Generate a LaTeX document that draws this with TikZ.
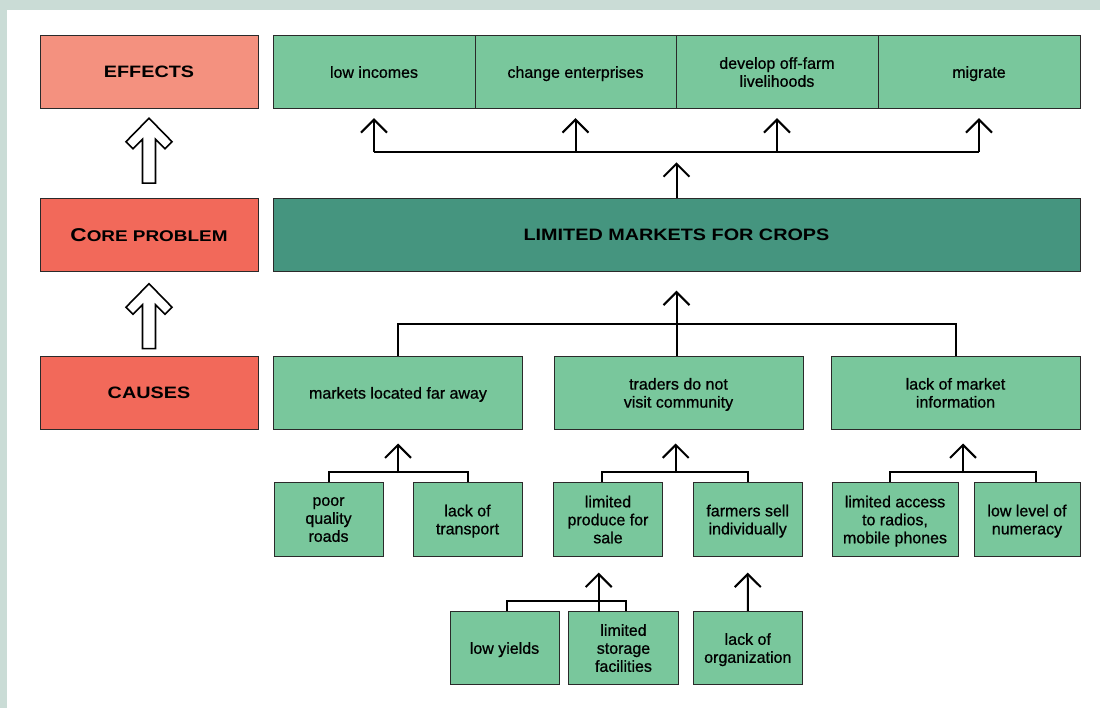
\documentclass[tikz,border=0pt]{standalone}
\usepackage{fontspec}
\setmainfont{Liberation Sans}
\newfontfamily\medfont[FakeBold=0.8]{Liberation Sans}
\usetikzlibrary{arrows.meta,calc}
\definecolor{framecol}{HTML}{CADCD6}
\definecolor{salmon}{HTML}{F4917F}
\definecolor{redbox}{HTML}{F2695A}
\definecolor{grn}{HTML}{79C79C}
\definecolor{tealbox}{HTML}{45957F}
\definecolor{bord}{HTML}{2A2A2A}
\newcommand\hd[1]{\scalebox{1.2}[1]{\bfseries\fontsize{16.5}{18}\selectfont #1}}
\begin{document}
\begin{tikzpicture}[x=1pt,y=-1pt,
  box/.style={draw=bord, line width=0.9pt, fill=grn, inner sep=0pt, align=center,
    font=\medfont\fontsize{16}{18}\selectfont, minimum height=72.5pt, text depth=0pt},
  sbox/.style={box, minimum height=73.5pt},
  lab/.style={box, minimum width=218pt, font=\normalfont},
  ln/.style={line width=2pt, draw=black},
  arr/.style={line width=2pt, draw=black, -{Straight Barb[length=13pt,width=26pt]}},
  hollow/.pic={\draw[fill=white, line width=1.6pt, line join=miter]
    (0,0) -- (23,23.5) -- (16,30.5) -- (6.5,21) -- (6.5,65) -- (-6.5,65)
    -- (-6.5,21) -- (-16,30.5) -- (-23,23.5) -- cycle;}]
\useasboundingbox (0,0) rectangle (1100,708);
\fill[framecol] (0,0) rectangle (1100,708);
\fill[white] (7,10) rectangle (1100,708);

% left labels
\node[lab, fill=salmon] (eff) at (149,72) {\hd{EFFECTS}};
\node[lab, fill=redbox] (corelab) at (149,235) {\scalebox{1.22}[1]{\bfseries\fontsize{18.5}{18}\selectfont C\fontsize{15.5}{18}\selectfont ORE PROBLEM}};
\node[lab, fill=redbox] (causes) at (149,393) {\hd{CAUSES}};
\pic at ($(eff.south)+(0,9.5)$) {hollow};
\pic at ($(corelab.south)+(0,12)$) {hollow};

% effects
\node[box, minimum width=202pt] (e1) at (374,72) {low incomes};
\node[box, minimum width=201pt] (e2) at (575.5,72) {change enterprises};
\node[box, minimum width=202pt] (e3) at (777,72) {develop off-farm\\livelihoods};
\node[box, minimum width=202pt] (e4) at (979,72) {migrate};

% core problem
\node[box, fill=tealbox, minimum width=807pt, font=\normalfont] (cp) at (676.5,235) {\hd{LIMITED MARKETS FOR CROPS}};

% causes
\node[box, minimum width=249pt] (c1) at (398,392.8) {markets located far away};
\node[box, minimum width=249pt] (c2) at (678.5,392.8) {traders do not\\visit community};
\node[box, minimum width=249pt] (c3) at (955.5,392.8) {lack of market\\information};

% level 3
\node[sbox, minimum width=109pt] (d1) at (328.5,519.5) {poor\\quality\\roads};
\node[sbox, minimum width=109pt] (d2) at (467.5,519.5) {lack of\\transport};
\node[sbox, minimum width=109pt] (d3) at (608,519.5) {limited\\produce for\\sale};
\node[sbox, minimum width=109pt] (d4) at (747.7,519.5) {farmers sell\\individually};
\node[sbox, minimum width=126pt] (d5) at (895,519.5) {limited access\\to radios,\\mobile phones};
\node[sbox, minimum width=106pt] (d6) at (1027,519.5) {low level of\\numeracy};

% level 4
\node[sbox, minimum width=109pt] (f1) at (504.5,648) {low yields};
\node[sbox, minimum width=110pt] (f2) at (623.5,648) {limited\\storage\\facilities};
\node[sbox, minimum width=109pt] (f3) at (747.8,648) {lack of\\organization};

% effect connectors
\coordinate (eb) at ($(cp.north)+(0,-46)$);
\draw[arr, shorten >=10pt] (cp.north) -- (eb);
\draw[ln] (e1.south |- eb) -- (e4.south |- eb);
\foreach \n in {e1,e2,e3,e4} \draw[arr, shorten >=9.5pt] (\n.south |- eb) -- (\n.south);

% cause connectors
\draw[ln] (c1.north) -- ++(0,-32) -| (c3.north);
\draw[arr, shorten >=19pt] (cp.south |- c2.north) -- (cp.south);

% level 3 connectors
\draw[ln] (d1.north) -- ++(0,-10.5) -| (d2.north);
\draw[arr, shorten >=14pt] ($(c1.south)+(0,43.5)$) -- (c1.south);
\draw[ln] ($(d3.north)+(-6,0)$) -- ++(0,-10.5) -| (d4.north);
\draw[arr, shorten >=14pt] ($(c2.south)+(-2.8,43.5)$) -- ($(c2.south)+(-2.8,0)$);
\draw[ln] ($(d5.north)+(-5,0)$) -- ++(0,-10.5) -| ($(d6.north)+(9,0)$);
\draw[arr, shorten >=14pt] ($(c3.south)+(7.5,43.5)$) -- ($(c3.south)+(7.5,0)$);

% level 4 connectors
\draw[ln] ($(f1.north)+(2,0)$) -- ++(0,-9.5) -| ($(f2.north)+(2,0)$);
\draw[arr, shorten >=16pt] ($(d3.south)+(-9.3,55.5)$) -- ($(d3.south)+(-9.3,0)$);
\draw[arr, shorten >=16pt] (f3.north) -- (d4.south);
\end{tikzpicture}
\end{document}
